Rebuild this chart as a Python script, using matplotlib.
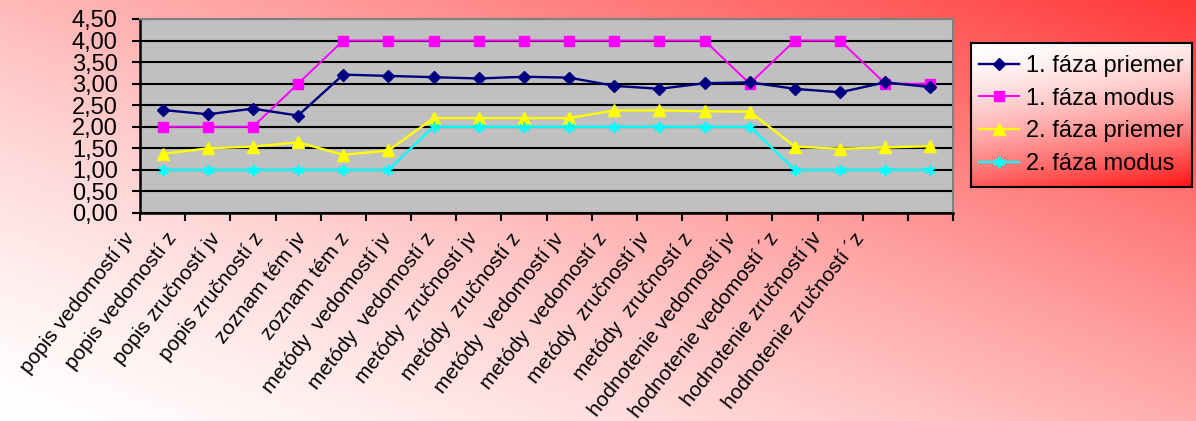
import numpy as np
import matplotlib
matplotlib.use("Agg")
import matplotlib.pyplot as plt
from matplotlib.ticker import FuncFormatter, MultipleLocator
from matplotlib.transforms import blended_transform_factory, ScaledTranslation

plt.rcParams['font.family'] = ['Liberation Sans', 'DejaVu Sans']

# categories (x axis)
categories = [
    "popis vedomostí jv", "popis vedomostí z", "popis zručností jv", "popis zručností z",
    "zoznam tém jv", "zoznam tém z", "metódy  vedomostí jv", "metódy  vedomostí z",
    "metódy  zručností jv", "metódy  zručností z", "metódy  vedomostí jv", "metódy  vedomostí z",
    "metódy  zručností jv", "metódy  zručností z", "hodnotenie vedomostí jv",
    "hodnotenie vedomostí ´z", "hodnotenie zručností jv", "hodnotenie zručností ´z",
]

# series values
f1_priemer = [2.39, 2.29, 2.42, 2.26, 3.21, 3.18, 3.15, 3.12, 3.16, 3.14,
              2.95, 2.88, 3.01, 3.03, 2.88, 2.80, 3.03, 2.92]
f1_modus = [2, 2, 2, 3, 4, 4, 4, 4, 4, 4, 4, 4, 4, 3, 4, 4, 3, 3]
f2_priemer = [1.37, 1.50, 1.54, 1.64, 1.35, 1.45, 2.20, 2.20, 2.20, 2.20,
              2.38, 2.38, 2.36, 2.35, 1.54, 1.49, 1.52, 1.55]
f2_modus = [1, 1, 1, 1, 1, 1, 2, 2, 2, 2, 2, 2, 2, 2, 1, 1, 1, 1]

series_names = ["1. fáza priemer", "1. fáza modus", "2. fáza priemer", "2. fáza modus"]

W, H = 1196, 421
fig = plt.figure(figsize=(W / 100, H / 100), dpi=100)

# background gradient: white bottom-left -> red top-right
bg = fig.add_axes([0, 0, 1, 1], zorder=-10)
xn = np.linspace(0, 1, W)[None, :]
yn = np.linspace(1, 0, H)[:, None]
s = 0.53 * xn + 0.47 * yn
t = 0.97 * s ** 1.4
red = np.array([1.0, 0.19, 0.19])
img = (1 - t[..., None]) * np.ones(3) + t[..., None] * red
bg.imshow(img, aspect='auto', extent=[0, 1, 0, 1])
bg.axis("off")

ax = fig.add_axes([140 / W, 1 - 213 / H, 813 / W, 194 / H])
ax.set_facecolor("#C0C0C0")
x = np.arange(len(categories))

ax.plot(x, f1_priemer, color="#000080", lw=1.7, marker="D", ms=6, label=series_names[0], zorder=5)
ax.plot(x, f1_modus, color="#FF00FF", lw=1.4, marker="s", ms=7, label=series_names[1], zorder=4)
ax.plot(x, f2_priemer, color="#FFFF00", lw=1.7, marker="^", ms=8, label=series_names[2], zorder=3)
ax.plot(x, f2_modus, color="#00FFFF", lw=1.7, marker=(6, 2, 0), ms=8, mew=1.4,
        label=series_names[3], zorder=3)

ax.set_xlim(-0.5, len(categories) - 0.5)
ax.set_ylim(0, 4.5)
ax.yaxis.set_major_locator(MultipleLocator(0.5))
ax.yaxis.set_major_formatter(FuncFormatter(lambda v, p: f"{v:.2f}".replace(".", ",")))
ax.grid(axis="y", color="black", lw=1.5)
ax.set_axisbelow(True)
ax.tick_params(axis="y", direction="out", length=6, width=1.5, pad=10, labelsize=17)
ax.set_xticks(np.arange(-0.5, len(categories)))
ax.set_xticklabels([])
ax.tick_params(axis="x", direction="out", length=6, width=1.5)

for side in ["left", "bottom"]:
    ax.spines[side].set_color("black")
    ax.spines[side].set_linewidth(1.8)
for side in ["top", "right"]:
    ax.spines[side].set_color("#808080")
    ax.spines[side].set_linewidth(1.5)

# rotated category labels
trans = blended_transform_factory(ax.transData, ax.transAxes)
for i, name in enumerate(categories):
    dx = -(39.6 + 2.2 * i) / 100
    off = ScaledTranslation(dx, -0.16, fig.dpi_scale_trans)
    ax.text(i, 0, name, transform=trans + off, rotation=52, rotation_mode="anchor",
            ha="right", va="top", fontsize=15, clip_on=False)

# legend with gradient box
lx0, ly0, lw, lh = 971 / W, 1 - 187 / H, 221 / W, 144 / H
lg = fig.add_axes([lx0, ly0, lw, lh], zorder=1)
gx = np.linspace(0, 1, 200)[None, :]
gy = np.linspace(0, 1, 100)[:, None]
gt = np.clip(0.8 * gy + 0.2 * gx, 0, 1) ** 1.6
lred = np.array([1.0, 0.08, 0.08])
limg = (1 - gt[..., None]) * np.ones(3) + gt[..., None] * lred
lg.imshow(limg, aspect="auto", extent=[0, 1, 0, 1])
lg.set_xticks([])
lg.set_yticks([])
for sp in lg.spines.values():
    sp.set_color("black")
    sp.set_linewidth(1.5)

handles, labels = ax.get_legend_handles_labels()
leg = fig.legend(handles, labels, loc="center", bbox_to_anchor=(lx0, ly0, lw, lh),
                 bbox_transform=fig.transFigure, frameon=False, fontsize=17,
                 handlelength=1.7, handletextpad=0.3, labelspacing=0.45)
leg.set_zorder(2)

fig.savefig("out.png", dpi=100)
